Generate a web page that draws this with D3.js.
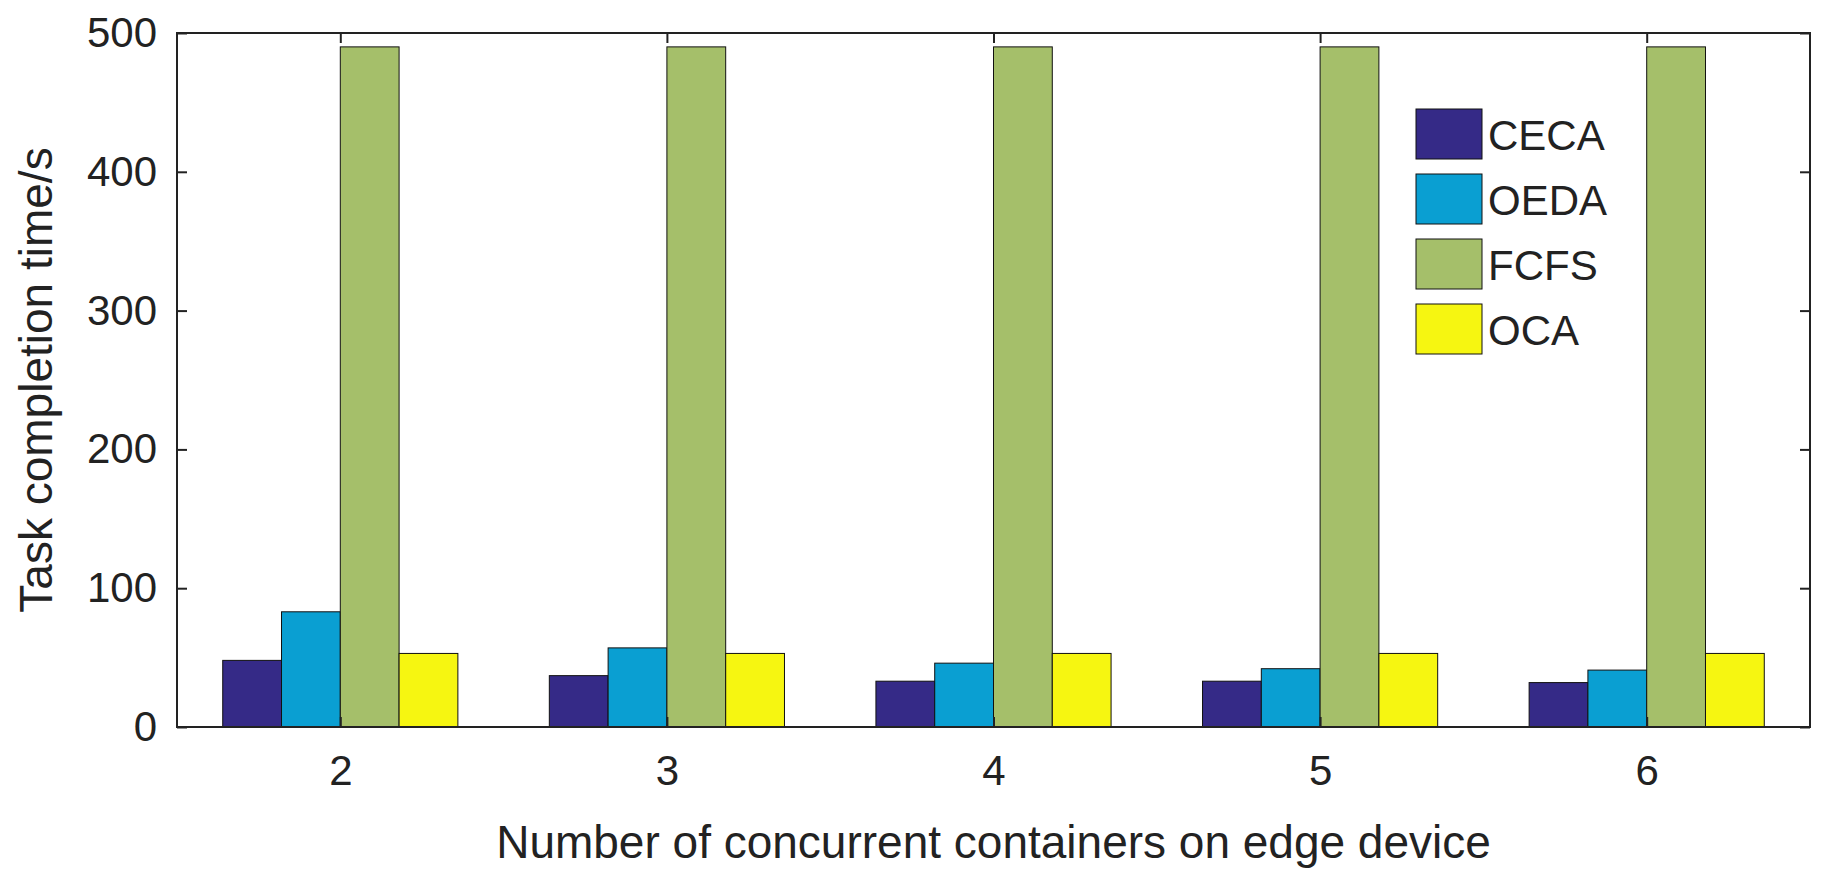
<!DOCTYPE html><html><head><meta charset="utf-8"><script src="https://cdn.jsdelivr.net/npm/d3@7"></script>
<style>body{margin:0;background:#fff}text{font-family:"Liberation Sans",Arial,sans-serif;fill:#222}</style></head><body><svg width="1837" height="876"></svg>
<script>
const categories=["2","3","4","5","6"];
const seriesNames=["CECA","OEDA","FCFS","OCA"];
const colors=["#352a87","#0a9fd2","#a5bf6a","#f6f611"];
const CECA=[48,37,33,33,32];
const OEDA=[83,57,46,42,41];
const FCFS=[490,490,490,490,490];
const OCA=[53,53,53,53,53];
const yTicks=[0,100,200,300,400,500];
const series=[CECA,OEDA,FCFS,OCA];
const svg=d3.select("svg");
const L=177,R=1810,T=33,B=727;
const x=d3.scaleBand().domain(categories).range([L,R]).paddingInner(0.28).paddingOuter(0.14);
const xi=d3.scaleBand().domain(seriesNames).range([0,x.bandwidth()]);
const y=d3.scaleLinear().domain([0,500]).range([B,T]);
categories.forEach((c,ci)=>{
  series.forEach((s,si)=>{
    svg.append("rect").attr("x",x(c)+xi(seriesNames[si])).attr("width",xi.bandwidth())
      .attr("y",y(s[ci])).attr("height",y(0)-y(s[ci])).attr("fill",colors[si]).attr("stroke","#111").attr("stroke-width",1);
  });
});
const xc=c=>x(c)+x.bandwidth()/2;
const ax=svg.append("g").attr("transform",`translate(0,${B})`).call(d3.axisBottom(d3.scalePoint().domain(categories).range([xc("2"),xc("6")])).tickSize(-10).tickPadding(28));
const ax2=svg.append("g").attr("transform",`translate(0,${T})`).call(d3.axisTop(d3.scalePoint().domain(categories).range([xc("2"),xc("6")])).tickSize(-10).tickFormat(""));
const ay=svg.append("g").attr("transform",`translate(${L},0)`).call(d3.axisLeft(y).tickValues(yTicks).tickSize(-10).tickPadding(20));
const ay2=svg.append("g").attr("transform",`translate(${R},0)`).call(d3.axisRight(y).tickValues(yTicks).tickSize(-10).tickFormat(""));
[ax,ax2,ay,ay2].forEach(g=>{g.select(".domain").remove();g.selectAll("line").attr("stroke","#222").attr("stroke-width",2);g.selectAll("text").style("font-size","42px").attr("fill","#222");});
svg.append("rect").attr("x",L).attr("y",T).attr("width",R-L).attr("height",B-T).attr("fill","none").attr("stroke","#222").attr("stroke-width",2);
svg.append("text").attr("x",(L+R)/2).attr("y",858).attr("text-anchor","middle").style("font-size","46px").text("Number of concurrent containers on edge device");
svg.append("text").attr("transform",`translate(52,${(T+B)/2}) rotate(-90)`).attr("text-anchor","middle").style("font-size","46px").text("Task completion time/s");
seriesNames.forEach((n,i)=>{
  const yy=109+i*65;
  svg.append("rect").attr("x",1416).attr("y",yy).attr("width",66).attr("height",50).attr("fill",colors[i]).attr("stroke","#111");
  svg.append("text").attr("x",1488).attr("y",yy+41).style("font-size","42px").text(n);
});
</script></body></html>
